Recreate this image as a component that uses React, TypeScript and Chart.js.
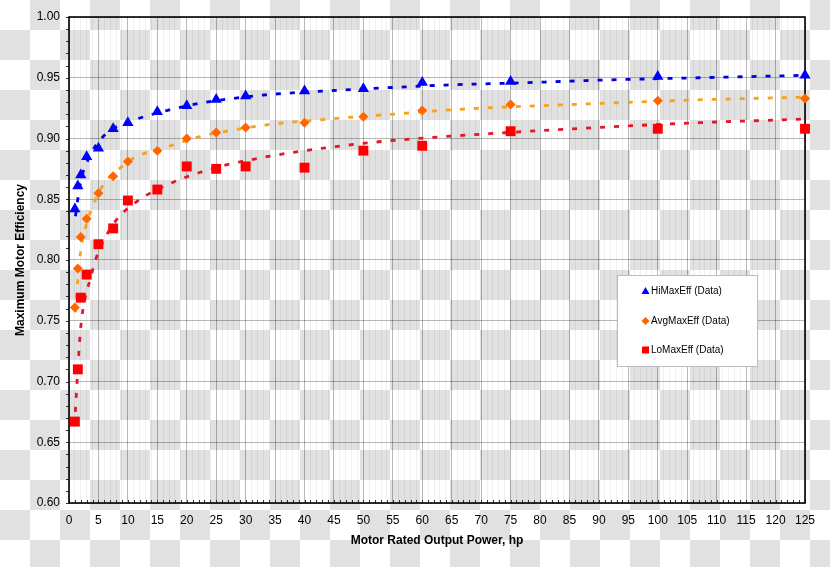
import React, { useEffect, useRef } from 'react';
import { Chart, registerables } from 'chart.js';

Chart.register(...registerables);

// ---- data ----
const powerHp = [1, 1.5, 2, 3, 5, 7.5, 10, 15, 20, 25, 30, 40, 50, 60, 75, 100, 125];
const hiMaxEff = [0.842, 0.861, 0.870, 0.885, 0.892, 0.908, 0.913, 0.922, 0.927, 0.932, 0.935, 0.939, 0.941, 0.946, 0.947, 0.951, 0.952];
const avgMaxEff = [0.761, 0.793, 0.819, 0.834, 0.855, 0.869, 0.881, 0.890, 0.900, 0.905, 0.909, 0.913, 0.918, 0.923, 0.928, 0.931, 0.933];
const loMaxEff = [0.667, 0.710, 0.769, 0.788, 0.813, 0.826, 0.849, 0.858, 0.877, 0.875, 0.877, 0.876, 0.890, 0.894, 0.906, 0.908, 0.908];

// trend lines
const trendHiX = [1.1, 1.65, 2.2, 3, 4.5, 6.1, 7.8, 11.5, 16.6, 22.2, 27.9, 33.6, 43, 55, 64, 78, 90, 107, 125];
const trendHiY = [0.836, 0.855, 0.869, 0.880, 0.894, 0.903, 0.909, 0.916, 0.923, 0.929, 0.933, 0.936, 0.939, 0.942, 0.944, 0.946, 0.948, 0.950, 0.952];
const trendAvgX = [1.1, 1.36, 2, 3, 4, 6, 9, 11, 16.6, 22.5, 28, 34.7, 42, 49, 55, 63, 70, 80, 91, 108, 125];
const trendAvgY = [0.757, 0.775, 0.808, 0.830, 0.844, 0.863, 0.877, 0.884, 0.893, 0.902, 0.907, 0.912, 0.915, 0.918, 0.920, 0.923, 0.925, 0.927, 0.929, 0.932, 0.934];
const trendLoX = [1.07, 1.36, 1.65, 2, 2.7, 3.6, 4.5, 7.6, 11.5, 17.7, 22.2, 26.5, 33.6, 40, 52, 62, 71.5, 85.6, 107, 125];
const trendLoY = [0.675, 0.699, 0.722, 0.745, 0.768, 0.784, 0.800, 0.830, 0.848, 0.864, 0.872, 0.878, 0.885, 0.890, 0.897, 0.901, 0.904, 0.908, 0.913, 0.916];

const legendLabels = ['HiMaxEff (Data)', 'AvgMaxEff (Data)', 'LoMaxEff (Data)'];

const W = 830;
const H = 567;
const FONT = "'Liberation Sans', Arial, sans-serif";

const pts = (xs: number[], ys: number[]) => xs.map((x, i) => ({ x, y: ys[i] }));

export default function App() {
  const ref = useRef<HTMLCanvasElement>(null);

  useEffect(() => {
    const canvas = ref.current;
    if (!canvas) return;

    const bgPlugin = {
      id: 'checker',
      beforeDraw(chart: any) {
        const ctx = chart.ctx;
        ctx.save();
        ctx.fillStyle = '#ffffff';
        ctx.fillRect(0, 0, W, H);
        ctx.fillStyle = '#e1e1e1';
        for (let i = 0; i * 30 < W; i++) {
          for (let j = 0; j * 30 < H; j++) {
            if ((i + j) % 2 === 1) ctx.fillRect(i * 30, j * 30, 30, 30);
          }
        }
        ctx.restore();
      },
    };

    const framePlugin = {
      id: 'frame',
      beforeDatasetsDraw(chart: any) {
        const ctx = chart.ctx;
        const { left, right, top, bottom } = chart.chartArea;
        const xs = chart.scales.x;
        const ys = chart.scales.y;
        ctx.save();
        ctx.strokeStyle = '#333';
        ctx.lineWidth = 1;
        // minor ticks
        ctx.beginPath();
        for (let k = 0; k <= 40; k++) {
          const py = Math.round(ys.getPixelForValue(0.6 + k * 0.01)) + 0.5;
          ctx.moveTo(left - 3, py);
          ctx.lineTo(left, py);
        }
        for (let k = 0; k <= 125; k++) {
          const px = Math.round(xs.getPixelForValue(k)) + 0.5;
          ctx.moveTo(px, bottom);
          ctx.lineTo(px, bottom - 3);
        }
        ctx.stroke();
        ctx.strokeStyle = '#000';
        ctx.lineWidth = 1.6;
        ctx.strokeRect(left, top, right - left, bottom - top);
        ctx.restore();
      },
    };

    const legendPlugin = {
      id: 'customLegend',
      afterDraw(chart: any) {
        const ctx = chart.ctx;
        ctx.save();
        ctx.fillStyle = '#ffffff';
        ctx.fillRect(617, 275, 140, 91);
        ctx.strokeStyle = '#bdbdbd';
        ctx.lineWidth = 1;
        ctx.strokeRect(617.5, 275.5, 140, 91);
        const mx = 645.5;
        const ysRows = [291, 321, 350];
        // triangle
        ctx.fillStyle = '#0000ff';
        ctx.beginPath();
        ctx.moveTo(mx, ysRows[0] - 4);
        ctx.lineTo(mx + 4, ysRows[0] + 3);
        ctx.lineTo(mx - 4, ysRows[0] + 3);
        ctx.closePath();
        ctx.fill();
        // diamond
        ctx.fillStyle = '#ff6600';
        ctx.beginPath();
        ctx.moveTo(mx, ysRows[1] - 4);
        ctx.lineTo(mx + 4, ysRows[1]);
        ctx.lineTo(mx, ysRows[1] + 4);
        ctx.lineTo(mx - 4, ysRows[1]);
        ctx.closePath();
        ctx.fill();
        // square
        ctx.fillStyle = '#ff0000';
        ctx.fillRect(mx - 3.5, ysRows[2] - 3.5, 7, 7);
        ctx.fillStyle = '#000';
        ctx.font = `10px ${FONT}`;
        ctx.textBaseline = 'middle';
        ctx.textAlign = 'left';
        legendLabels.forEach((t, i) => ctx.fillText(t, 651, ysRows[i]));
        ctx.restore();
      },
    };

    const trendBase = {
      showLine: true,
      pointRadius: 0,
      pointHoverRadius: 0,
      borderWidth: 2.8,
      borderDash: [5, 9],
      cubicInterpolationMode: 'monotone',
      fill: false,
    };

    const chart = new Chart(canvas, {
      type: 'scatter',
      data: {
        datasets: [
          {
            label: legendLabels[0],
            data: pts(powerHp, hiMaxEff),
            pointStyle: 'triangle',
            pointRadius: 6.5,
            backgroundColor: '#0000ff',
            borderColor: '#0000ff',
            borderWidth: 0,
            clip: false,
          },
          {
            label: legendLabels[1],
            data: pts(powerHp, avgMaxEff),
            pointStyle: 'rectRot',
            pointRadius: 5,
            backgroundColor: '#ff6600',
            borderColor: '#ff6600',
            borderWidth: 0,
            clip: false,
          },
          {
            label: legendLabels[2],
            data: pts(powerHp, loMaxEff),
            pointStyle: 'rect',
            pointRadius: 7,
            backgroundColor: '#ff0000',
            borderColor: '#ff0000',
            borderWidth: 0,
            clip: false,
          },
          { ...trendBase, label: 'hiTrend', data: pts(trendHiX, trendHiY), borderColor: '#0000dd' } as any,
          { ...trendBase, label: 'avgTrend', data: pts(trendAvgX, trendAvgY), borderColor: '#f7a21b' } as any,
          { ...trendBase, label: 'loTrend', data: pts(trendLoX, trendLoY), borderColor: '#e3162a' } as any,
        ],
      },
      options: {
        animation: false,
        responsive: false,
        maintainAspectRatio: false,
        devicePixelRatio: 1,
        layout: { padding: { top: 17, right: 25, left: 0, bottom: 0 } },
        plugins: {
          legend: { display: false },
          tooltip: { enabled: false },
        },
        scales: {
          x: {
            type: 'linear',
            min: 0,
            max: 125,
            afterFit(scale: any) {
              scale.height = 64;
            },
            ticks: {
              stepSize: 1,
              autoSkip: false,
              maxRotation: 0,
              minRotation: 0,
              padding: 10,
              color: '#000',
              font: { family: FONT, size: 12 },
              callback: (v: any) => (Math.round(v) % 5 === 0 ? String(Math.round(v)) : ''),
            },
            grid: {
              drawTicks: false,
              lineWidth: 1,
              color: (c: any) => (c.tick && Math.round(c.tick.value) % 5 === 0 ? 'rgba(0,0,0,0.28)' : 'rgba(0,0,0,0.06)'),
            },
            border: { display: false },
            title: {
              display: true,
              text: 'Motor Rated Output Power, hp',
              color: '#000',
              font: { family: FONT, size: 12, weight: 'bold' },
              padding: { top: 0, bottom: 19 },
            },
          },
          y: {
            type: 'linear',
            min: 0.6,
            max: 1.0,
            afterFit(scale: any) {
              scale.width = 69;
            },
            ticks: {
              stepSize: 0.05,
              padding: 9,
              color: '#000',
              font: { family: FONT, size: 12 },
              callback: (v: any) => Number(v).toFixed(2),
            },
            grid: {
              drawTicks: false,
              lineWidth: 1,
              color: 'rgba(0,0,0,0.28)',
            },
            border: { display: false },
            title: {
              display: true,
              text: 'Maximum Motor Efficiency',
              color: '#000',
              font: { family: FONT, size: 12, weight: 'bold' },
              padding: { top: 13, bottom: 0 },
            },
          },
        },
      } as any,
      plugins: [bgPlugin, framePlugin, legendPlugin],
    });

    return () => chart.destroy();
  }, []);

  return (
    <div style={{ position: 'absolute', left: 0, top: 0, width: W, height: H }}>
      <canvas ref={ref} width={W} height={H} style={{ width: W, height: H, display: 'block' }} />
    </div>
  );
}
